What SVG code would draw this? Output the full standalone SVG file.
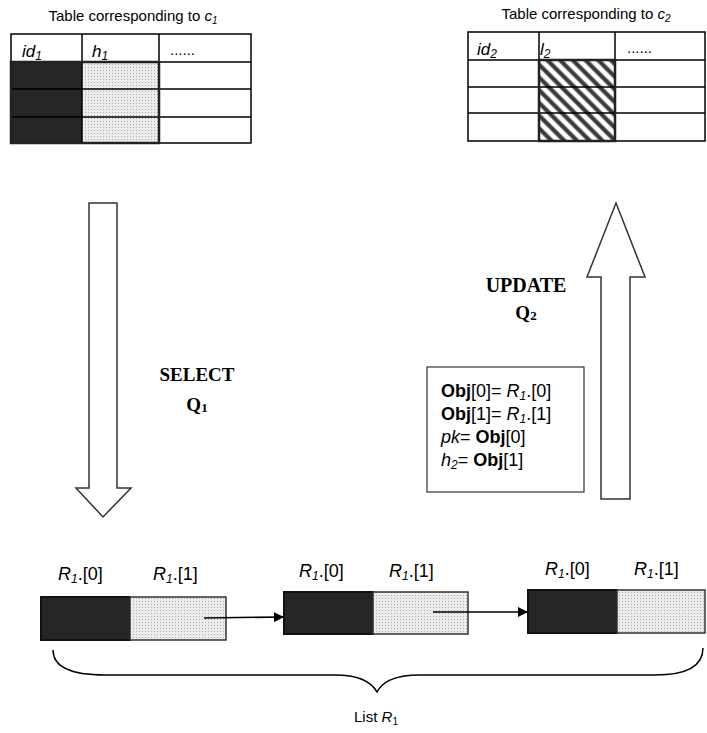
<svg xmlns="http://www.w3.org/2000/svg" width="707" height="733" viewBox="0 0 707 733">
<style>
.t{font-family:"Liberation Sans",Arial,sans-serif;fill:#000}
.ser{font-family:"Liberation Serif","Times New Roman",serif;font-weight:bold;fill:#000}
.it{font-style:italic}
.b{font-weight:bold}
.grid{stroke:#000;stroke-width:1.5;fill:none}
.big{fill:#fff;stroke:#333;stroke-width:1.5}
.dark{fill:#262626;stroke:#111;stroke-width:2}
.dot{fill:url(#dots);stroke:#333;stroke-width:1.5}
.conn{stroke:#000;stroke-width:1.5;fill:none}
</style>
<defs>
<pattern id="dots" width="3" height="3" patternUnits="userSpaceOnUse">
<rect width="3" height="3" fill="#ececec"/>
<rect x="1" y="1" width="1" height="1" fill="#aaaaaa"/>
</pattern>
<pattern id="hatch" width="9" height="9" patternUnits="userSpaceOnUse" patternTransform="rotate(-45)">
<rect width="9" height="9" fill="#fff"/>
<rect x="0" width="1" height="9" fill="#888"/>
<rect x="1" width="3" height="9" fill="#3a3a3a"/>
<rect x="4" width="1" height="9" fill="#888"/>
</pattern>
<marker id="ah" viewBox="0 0 10 10" refX="10" refY="5" markerWidth="10" markerHeight="10" markerUnits="userSpaceOnUse" orient="auto">
<path d="M0,0 L10,5 L0,10 z" fill="#000"/>
</marker>
</defs>
<rect width="707" height="733" fill="#fff"/>

<g id="table1">
<text class="t" x="133" y="21" font-size="15" text-anchor="middle">Table corresponding to <tspan class="it">c</tspan><tspan class="it" font-size="10" dy="3">1</tspan></text>
<rect x="11" y="62" width="71" height="81" fill="#262626"/>
<rect x="82" y="62" width="77" height="81" fill="url(#dots)"/>
<rect x="11" y="34" width="240" height="109" class="grid"/>
<line x1="11" y1="62" x2="251" y2="62" class="grid"/>
<line x1="11" y1="89" x2="251" y2="89" class="grid"/>
<line x1="11" y1="117" x2="251" y2="117" class="grid"/>
<line x1="82" y1="34" x2="82" y2="143" class="grid"/>
<line x1="159" y1="34" x2="159" y2="143" class="grid"/>
<rect x="11" y="62" width="148" height="81" fill="none" stroke="#222" stroke-width="2.5"/>
<text class="t it" x="22" y="57" font-size="17">id<tspan font-size="12" dy="3">1</tspan></text>
<text class="t it" x="92" y="57" font-size="17">h<tspan font-size="12" dy="3">1</tspan></text>
<text class="t" x="170" y="55" font-size="15">......</text>
</g>

<g id="table2">
<text class="t" x="586" y="19" font-size="15" text-anchor="middle">Table corresponding to <tspan class="it">c</tspan><tspan class="it" font-size="10" dy="3">2</tspan></text>
<rect x="539" y="60" width="76" height="81" fill="url(#hatch)"/>
<rect x="468" y="32" width="237" height="109" class="grid"/>
<line x1="468" y1="60" x2="705" y2="60" class="grid"/>
<line x1="468" y1="87" x2="705" y2="87" class="grid"/>
<line x1="468" y1="113" x2="705" y2="113" class="grid"/>
<line x1="539" y1="32" x2="539" y2="141" class="grid"/>
<line x1="615" y1="32" x2="615" y2="141" class="grid"/>
<rect x="539" y="60" width="76" height="81" fill="none" stroke="#222" stroke-width="2.5"/>
<text class="t it" x="477" y="55" font-size="17">id<tspan font-size="12" dy="3">2</tspan></text>
<text class="t it" x="540" y="55" font-size="17">l<tspan font-size="12" dy="3">2</tspan></text>
<text class="t" x="627" y="53" font-size="15">......</text>
</g>

<g id="select-arrow">
<polygon class="big" points="89,203 117,203 117,488 131,488 103,517 76,488 89,488"/>
<text class="ser" x="197" y="381" font-size="19" text-anchor="middle">SELECT</text>
<text class="ser" x="197" y="411" font-size="19" text-anchor="middle">Q<tspan font-size="13" dy="1">1</tspan></text>
</g>

<g id="update-arrow">
<polygon class="big" points="616,203 645,277 630,277 630,499 601,499 601,277 587,277"/>
<text class="ser" x="526" y="292" font-size="20" text-anchor="middle">UPDATE</text>
<text class="ser" x="526" y="319" font-size="19" text-anchor="middle">Q<tspan font-size="13" dy="1">2</tspan></text>
</g>

<g id="assign-box">
<rect x="427" y="367" width="157" height="125" fill="#fff" stroke="#333" stroke-width="1.2"/>
<text class="t" x="441" y="397" font-size="18"><tspan class="b">Obj</tspan>[0]= <tspan class="it">R</tspan><tspan class="it" font-size="12" dy="3">1</tspan><tspan dy="-3">.[0]</tspan></text>
<text class="t" x="441" y="420" font-size="18"><tspan class="b">Obj</tspan>[1]= <tspan class="it">R</tspan><tspan class="it" font-size="12" dy="3">1</tspan><tspan dy="-3">.[1]</tspan></text>
<text class="t" x="441" y="443" font-size="18"><tspan class="it">pk</tspan>= <tspan class="b">Obj</tspan>[0]</text>
<text class="t" x="441" y="466" font-size="18"><tspan class="it">h</tspan><tspan class="it" font-size="12" dy="3">2</tspan><tspan dy="-3">= </tspan><tspan class="b">Obj</tspan>[1]</text>
</g>

<g id="node1">
<rect x="41" y="597" width="89" height="43" class="dark"/>
<rect x="130" y="597" width="96" height="43" class="dot"/>
<text class="t" x="58" y="580" font-size="18"><tspan class="it">R</tspan><tspan class="it" font-size="12" dy="3">1</tspan><tspan dy="-3">.[0]</tspan></text>
<text class="t" x="153" y="580" font-size="18"><tspan class="it">R</tspan><tspan class="it" font-size="12" dy="3">1</tspan><tspan dy="-3">.[1]</tspan></text>
</g>

<g id="node2">
<rect x="284" y="592" width="89" height="42" class="dark"/>
<rect x="373" y="592" width="95" height="42" class="dot"/>
<text class="t" x="299" y="577" font-size="18"><tspan class="it">R</tspan><tspan class="it" font-size="12" dy="3">1</tspan><tspan dy="-3">.[0]</tspan></text>
<text class="t" x="389" y="577" font-size="18"><tspan class="it">R</tspan><tspan class="it" font-size="12" dy="3">1</tspan><tspan dy="-3">.[1]</tspan></text>
</g>

<g id="node3">
<rect x="528" y="590" width="89" height="43" class="dark"/>
<rect x="617" y="590" width="88" height="43" class="dot"/>
<text class="t" x="545" y="575" font-size="18"><tspan class="it">R</tspan><tspan class="it" font-size="12" dy="3">1</tspan><tspan dy="-3">.[0]</tspan></text>
<text class="t" x="634" y="575" font-size="18"><tspan class="it">R</tspan><tspan class="it" font-size="12" dy="3">1</tspan><tspan dy="-3">.[1]</tspan></text>
</g>

<g id="connectors">
<line x1="204" y1="618" x2="284" y2="617" class="conn" marker-end="url(#ah)"/>
<line x1="433" y1="612" x2="528" y2="612" class="conn" marker-end="url(#ah)"/>
</g>

<g id="list-brace">
<path class="conn" stroke-width="1.3" d="M53,650 C53,666 70,675 105,675 L335,675 C362,675 372,683 377,692 C382,683 392,675 420,675 L655,675 C688,675 703,666 703,648"/>
<text class="t" x="376" y="722" font-size="15" text-anchor="middle">List <tspan class="it">R</tspan><tspan font-size="10" dy="3">1</tspan></text>
</g>
</svg>
